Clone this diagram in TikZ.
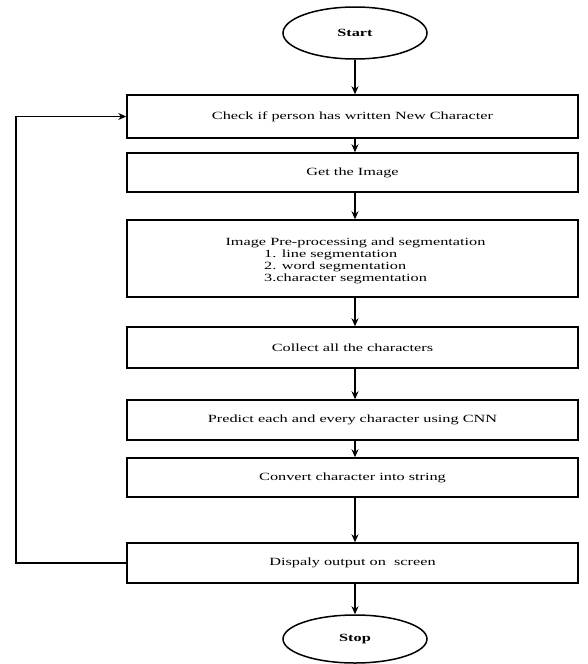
\documentclass[tikz,border=0pt]{standalone}
\usepackage{fontspec}
\setmainfont[FakeStretch=1.48]{Liberation Serif}
\usetikzlibrary{arrows.meta,shapes.geometric}
\begin{document}
\begin{tikzpicture}[x=1pt,y=-1pt,
  box/.style={draw, line width=1.5pt, minimum width=451pt, inner sep=0pt, font=\fontsize{11}{12}\selectfont},
  term/.style={draw, ellipse, line width=1.5pt, minimum width=144pt, minimum height=52pt, inner sep=0pt, font=\fontsize{11}{12}\selectfont\bfseries},
  txt/.style={inner sep=0pt, font=\fontsize{11}{12}\selectfont},
  arr/.style={-{Stealth[length=8pt,width=7pt]}, line width=1.6pt}]
\useasboundingbox (0,0) rectangle (587,664);
\node[term] (start) at (355,33) {Start};
\node[box, minimum height=43pt] (b1) at (352.5,116.5) {Check if person has written New Character};
\node[box, minimum height=39pt] (b2) at (352.5,172.5) {Get the Image};
\node[box, minimum height=77pt] (b3) at (352.5,258.5) {};
\node[txt, anchor=base] (b3t) at (355.5,245) {Image Pre-processing and segmentation};
\node[txt, anchor=base west] (b3a) at (264,257) {1. line segmentation};
\node[txt, anchor=base west] (b3b) at (264,269) {2. word segmentation};
\node[txt, anchor=base west] (b3c) at (264,281) {3.character segmentation};
\node[box, minimum height=41pt] (b4) at (352.5,347.5) {Collect all the characters};
\node[box, minimum height=40pt] (b5) at (352.5,420) {Predict each and every character using CNN};
\node[box, minimum height=39pt] (b6) at (352.5,477.5) {Convert character into string};
\node[box, minimum height=40pt] (b7) at (352.5,563) {Dispaly output on \ screen};
\node[term, minimum height=48pt] (stop) at (355,639) {Stop};
\draw[arr] (start.south) -- (b1.north -| start);
\draw[arr] (b1.south -| start) -- (b2.north -| start);
\draw[arr] (b2.south -| start) -- (b3.north -| start);
\draw[arr] (b3.south -| start) -- (b4.north -| start);
\draw[arr] (b4.south -| start) -- (b5.north -| start);
\draw[arr] (b5.south -| start) -- (b6.north -| start);
\draw[arr] (b6.south -| start) -- (b7.north -| start);
\draw[arr] (b7.south -| start) -- (stop.north);
\coordinate (lp) at (16,563);
\draw[arr] (b7.west) -- (lp) |- (b1.west);
\end{tikzpicture}
\end{document}
